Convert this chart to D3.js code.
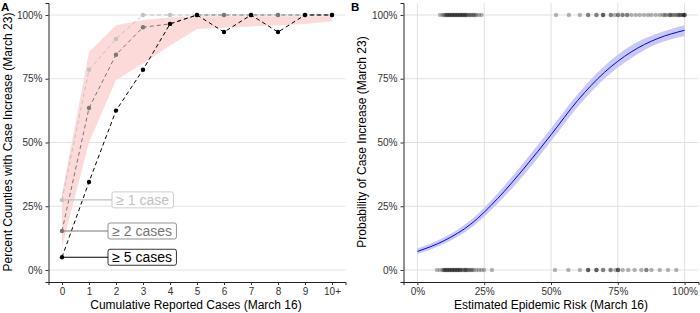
<!DOCTYPE html>
<html>
<head>
<meta charset="utf-8">
<script src="https://cdn.jsdelivr.net/npm/d3@7"></script>
<style>
  body { margin: 0; background: #fff; }
  text { font-family: "Liberation Sans", Arial, Helvetica, sans-serif; }
  .tick text { fill: #333; font-size: 10px; }
  .tick line { stroke: #333; }
  .domain { stroke: #222; }
</style>
</head>
<body>
<script>
// ---- data: panel A (percent of counties with a case increase) ----
var caseCats = ["0", "1", "2", "3", "4", "5", "6", "7", "8", "9", "10+"];
var atLeast1 = [27.5, 78.5, 90.6, 100, 100, 100, 100, 100, 100, 100, 100];
var atLeast2 = [15.3, 63.5, 84.4, 95.2, 96.5, 100, 100, 100, 100, 100, 100];
var atLeast5 = [5, 34.5, 62.5, 78.5, 96.5, 100, 93.3, 100, 93.3, 100, 100];
var bandLow  = [9, 50, 74.5, 81, 88, 94.5, 95, 95.5, 96, 96.5, 97.5];
var bandHigh = [30, 85.5, 96, 98, 99, 99.5, 99.5, 99.5, 99.5, 99.5, 99.5];
var pctTicks = [0, 25, 50, 75, 100];

// ---- data: panel B (estimated risk vs observed increase) ----
var riskGrid  = [0, 10, 20, 30, 40, 50, 60, 70, 80, 90, 100];
var fitProb   = [7.3, 11.5, 18, 28, 40, 53, 66.5, 77.5, 85.5, 90.8, 94];
var fitLow    = [6.3, 10.3, 16.5, 26, 37.5, 50.5, 64, 75, 83, 88.8, 91.8];
var fitHigh   = [8.4, 12.8, 19.6, 30, 42.5, 55.5, 69, 80, 88, 92.8, 96];
// counties whose cases increased (plotted at 100%)
var riskUp = [8.5, 9.5, 10, 10.5, 11, 11, 11.5, 12, 12, 12.5, 13, 13, 13.5, 14, 14,
  14.5, 15, 15, 15.5, 16, 16, 16.5, 17, 17, 17.5, 18, 18, 18.5, 19, 19.5, 20,
  20.5, 21, 21.5, 22, 23, 24,
  51.9, 56.7, 60.8, 63.9, 63.9, 67, 67, 69.5, 69.5, 69.5, 72.4, 72.4, 73.9, 75.1,
  75.1, 76.8, 76.8, 78.5, 78.5, 80.1, 81.7, 83.2, 84.8, 86.3, 87.6, 89.2, 90.7,
  91.9, 92.6, 93.2, 94.4, 94.4, 95, 95.6, 96.3, 96.9, 97.5, 98.1, 98.1, 98.7,
  99.4, 99.4, 100, 100, 100];
// counties whose cases did not increase (plotted at 0%)
var riskFlat = [7.3, 8.5, 9.5, 10, 10, 10.5, 11, 11, 11.5, 12, 12, 12.5, 13, 13,
  13.5, 14, 14, 14.5, 15, 15, 15.5, 16, 16, 16.5, 17, 17.5, 18, 18, 18.5, 19,
  19.5, 20, 20.5, 21, 22, 23, 24, 25, 27.9,
  51.5, 56.5, 60.8, 63.9, 63.9, 63.9, 67, 67, 67, 69.5, 69.5, 72.3, 72.3, 74.1,
  75.1, 75.1, 75.1, 76.8, 78.9, 81.3, 83.8, 85.7, 85.7, 87.6, 90.7, 93.8, 96.9];

var svg = d3.select("body").append("svg")
    .attr("width", 700)
    .attr("height", 313);

// ================= Panel A =================
var xA = d3.scalePoint().domain(caseCats).range([48.5, 345.5]).padding(0.5);
var yA = d3.scaleLinear().domain([-4.7, 104.7]).range([282, 3]);

var gA = svg.append("g");

// horizontal grid
gA.selectAll(".gridA").data(pctTicks).enter().append("line")
    .attr("x1", 48.5).attr("x2", 345.5)
    .attr("y1", function(d) { return yA(d); })
    .attr("y2", function(d) { return yA(d); })
    .style("stroke", "#e3e3e3").style("stroke-width", 1);

// confidence ribbon
var ribbon = d3.area()
    .x(function(d, i) { return xA(caseCats[i]); })
    .y0(function(d, i) { return yA(bandLow[i]); })
    .y1(function(d, i) { return yA(bandHigh[i]); });

gA.append("path")
    .datum(caseCats)
    .attr("d", ribbon)
    .style("fill", "#fcdada");

// the three threshold series
var seriesA = [
  {name: "\u2265 1 case",  values: atLeast1, color: "#c2c2c2", boxX: 112},
  {name: "\u2265 2 cases", values: atLeast2, color: "#777777", boxX: 108},
  {name: "\u2265 5 cases", values: atLeast5, color: "#000000", boxX: 108}
];

var lineA = d3.line()
    .x(function(d, i) { return xA(caseCats[i]); })
    .y(function(d) { return yA(d); });

seriesA.forEach(function(s) {
  gA.append("path")
      .datum(s.values)
      .attr("d", lineA)
      .style("fill", "none")
      .style("stroke", s.color)
      .style("stroke-width", 1)
      .style("stroke-dasharray", "4,3");

  gA.selectAll(null).data(s.values).enter().append("circle")
      .attr("cx", function(d, i) { return xA(caseCats[i]); })
      .attr("cy", function(d) { return yA(d); })
      .attr("r", 2.2)
      .style("fill", s.color);
});

// labels for the first point of each series
seriesA.forEach(function(s) {
  var py = yA(s.values[0]);
  gA.append("line")
      .attr("x1", xA(caseCats[0])).attr("x2", s.boxX)
      .attr("y1", py).attr("y2", py)
      .style("stroke", s.color).style("stroke-width", 1.2);
  var box = gA.append("rect");
  var t = gA.append("text")
      .attr("x", s.boxX + 4.3)
      .attr("y", py + 5)
      .style("font-size", "14px")
      .style("fill", s.color)
      .text(s.name);
  var w = t.node().getComputedTextLength();
  box.attr("x", s.boxX).attr("y", py - 8)
      .attr("width", w + 8.6).attr("height", 16)
      .attr("rx", 2)
      .style("fill", "#fff")
      .style("stroke", s.color)
      .style("stroke-width", 0.8);
});

// axes
gA.append("g")
    .attr("transform", "translate(0,282)")
    .call(d3.axisBottom(xA).tickSizeOuter(0).tickSize(3));
gA.append("g")
    .attr("transform", "translate(48.5,0)")
    .call(d3.axisLeft(yA).tickValues(pctTicks).tickSizeOuter(0).tickSize(3)
      .tickFormat(function(d) { return d + "%"; }));

gA.append("text")
    .attr("x", 196).attr("y", 309)
    .attr("text-anchor", "middle")
    .style("font-size", "12px")
    .text("Cumulative Reported Cases (March 16)");
gA.append("text")
    .attr("transform", "translate(12,142) rotate(-90)")
    .attr("text-anchor", "middle")
    .style("font-size", "12px")
    .text("Percent Counties with Case Increase (March 23)");
gA.append("text")
    .attr("x", 1).attr("y", 11)
    .style("font-size", "11.5px").style("font-weight", "bold")
    .text("A");

// ================= Panel B =================
var xB = d3.scaleLinear().domain([-5.2, 105.2]).range([403.5, 698.5]);
var yB = d3.scaleLinear().domain([-4.7, 104.7]).range([282, 3]);

var gB = svg.append("g");

// grid
gB.selectAll(".gridBy").data(pctTicks).enter().append("line")
    .attr("x1", 403.5).attr("x2", 698.5)
    .attr("y1", function(d) { return yB(d); })
    .attr("y2", function(d) { return yB(d); })
    .style("stroke", "#e0e0e0");
gB.selectAll(".gridBx").data(pctTicks).enter().append("line")
    .attr("y1", 3).attr("y2", 282)
    .attr("x1", function(d) { return xB(d); })
    .attr("x2", function(d) { return xB(d); })
    .style("stroke", "#e0e0e0");

// fitted curve with band
var bandB = d3.area()
    .curve(d3.curveMonotoneX)
    .x(function(d, i) { return xB(riskGrid[i]); })
    .y0(function(d, i) { return yB(fitLow[i]); })
    .y1(function(d, i) { return yB(fitHigh[i]); });

gB.append("path")
    .datum(riskGrid)
    .attr("d", bandB)
    .style("fill", "#c9c9f7");

var lineB = d3.line()
    .curve(d3.curveMonotoneX)
    .x(function(d, i) { return xB(riskGrid[i]); })
    .y(function(d) { return yB(d); });

gB.append("path")
    .datum(fitProb)
    .attr("d", lineB)
    .style("fill", "none")
    .style("stroke", "#0000ff")
    .style("stroke-width", 1);

// observed counties
gB.selectAll(".up").data(riskUp).enter().append("circle")
    .attr("cx", function(d) { return xB(d); })
    .attr("cy", yB(100))
    .attr("r", 2.2)
    .style("fill", "#000").style("fill-opacity", 0.28);
gB.selectAll(".flat").data(riskFlat).enter().append("circle")
    .attr("cx", function(d) { return xB(d); })
    .attr("cy", yB(0))
    .attr("r", 2.2)
    .style("fill", "#000").style("fill-opacity", 0.28);

// axes
gB.append("g")
    .attr("transform", "translate(0,282)")
    .call(d3.axisBottom(xB).tickValues(pctTicks).tickSizeOuter(0).tickSize(3)
      .tickFormat(function(d) { return d + "%"; }));
gB.append("g")
    .attr("transform", "translate(403.5,0)")
    .call(d3.axisLeft(yB).tickValues(pctTicks).tickSizeOuter(0).tickSize(3)
      .tickFormat(function(d) { return d + "%"; }));

gB.append("text")
    .attr("x", 551).attr("y", 309)
    .attr("text-anchor", "middle")
    .style("font-size", "12px")
    .text("Estimated Epidemic Risk (March 16)");
gB.append("text")
    .attr("transform", "translate(366,142) rotate(-90)")
    .attr("text-anchor", "middle")
    .style("font-size", "12px")
    .text("Probability of Case Increase (March 23)");
gB.append("text")
    .attr("x", 351).attr("y", 11)
    .style("font-size", "11.5px").style("font-weight", "bold")
    .text("B");
</script>
</body>
</html>
